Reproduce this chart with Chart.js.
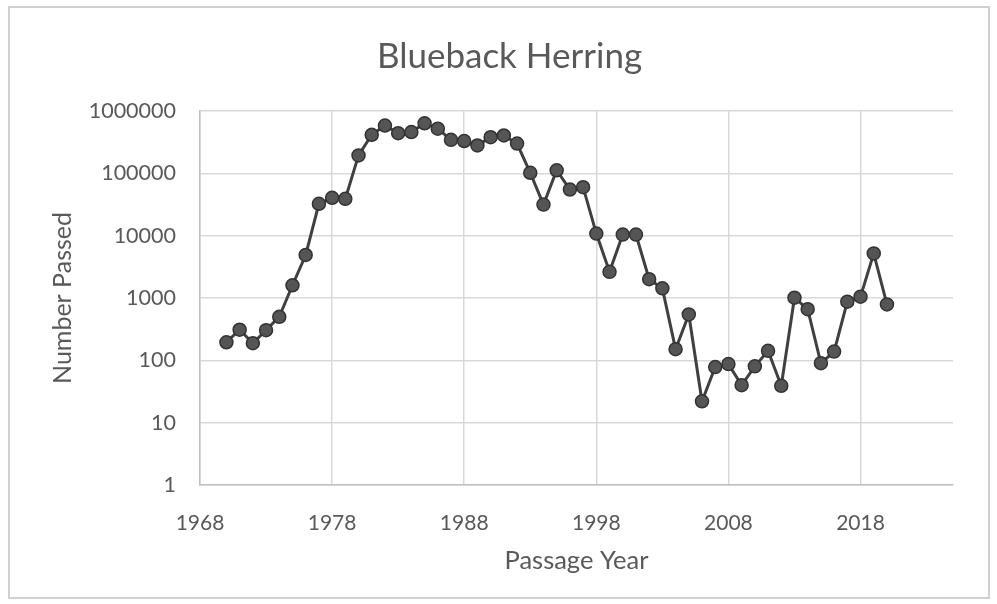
<!DOCTYPE html>
<html>
<head>
<meta charset="utf-8">
<title>Blueback Herring</title>
<script src="https://cdn.jsdelivr.net/npm/chart.js@4.4.1/dist/chart.umd.min.js"></script>
<style>
    html, body { margin: 0; padding: 0; background: #fff; }
    #wrap { width: 997px; height: 604px; position: relative; }
</style>
</head>
<body>
<div id="wrap"><canvas id="chart"></canvas></div>
<script>
// Річні підрахунки риби, що пройшла (1970–2020)
const years = [
    1970, 1971, 1972, 1973, 1974, 1975, 1976, 1977, 1978, 1979,
    1980, 1981, 1982, 1983, 1984, 1985, 1986, 1987, 1988, 1989,
    1990, 1991, 1992, 1993, 1994, 1995, 1996, 1997, 1998, 1999,
    2000, 2001, 2002, 2003, 2004, 2005, 2006, 2007, 2008, 2009,
    2010, 2011, 2012, 2013, 2014, 2015, 2016, 2017, 2018, 2019,
    2020
];
const passed = [
    195, 310, 188, 305, 500, 1600, 4900, 32500, 40500, 39000,
    194000, 415000, 585000, 440000, 460000, 635000, 520000, 345000, 330000, 280000,
    380000, 405000, 300000, 102000, 31500, 112000, 55000, 60000, 10800, 2630,
    10400, 10400, 2000, 1430, 151, 545, 22, 78, 87, 40,
    80, 142, 39, 1010, 660, 90, 138, 873, 1050, 5190,
    790
];

// Підписи осей
const xTicks = [1968, 1978, 1988, 1998, 2008, 2018];
const yTicks = [1, 10, 100, 1000, 10000, 100000, 1000000];

const textColor = '#595959';
const gridColor = '#d9d9d9';
const fontFamily = 'Lato, "Open Sans", sans-serif';

// Рамка області діаграми
const chartFrame = {
    id: 'chartFrame',
    beforeDraw(chart) {
        const ctx = chart.ctx;
        ctx.save();
        ctx.fillStyle = '#fff';
        ctx.fillRect(0, 0, chart.width, chart.height);
        ctx.strokeStyle = '#d0d0d0';
        ctx.lineWidth = 2;
        ctx.strokeRect(9, 7, 980, 591);
        ctx.restore();
    }
};

document.addEventListener('DOMContentLoaded', () => {
    initChart();
});

function initChart() {
    const ctx = document.getElementById('chart').getContext('2d');

    const points = years.map((y, i) => ({ x: y, y: passed[i] }));

    new Chart(ctx, {
        type: 'line',
        data: {
            datasets: [{
                label: 'Number Passed',
                data: points,
                borderColor: '#404040',
                borderWidth: 3,
                pointRadius: 6.5,
                pointBorderWidth: 1.5,
                pointBackgroundColor: '#555',
                pointBorderColor: '#333',
                tension: 0,
                fill: false
            }]
        },
        options: {
            responsive: true,
            maintainAspectRatio: false,
            animation: false,
            layout: {
                // лівий відступ більший, щоб заголовок стояв по центру
                padding: { left: 66, right: 44, top: 0, bottom: 20 }
            },
            plugins: {
                legend: { display: false },
                tooltip: { enabled: false },
                title: {
                    display: true,
                    text: 'Blueback Herring',
                    color: textColor,
                    font: { family: fontFamily, size: 35, weight: 'normal' },
                    padding: { top: 36, bottom: 33 }
                }
            },
            scales: {
                x: {
                    type: 'linear',
                    min: 1968,
                    max: 2025,
                    afterBuildTicks: axis => {
                        axis.ticks = xTicks.map(v => ({ value: v }));
                    },
                    afterFit: axis => { axis.height = 99; },
                    ticks: {
                        color: textColor,
                        padding: 26,
                        font: { family: fontFamily, size: 21 },
                        callback: v => String(v)
                    },
                    grid: { color: gridColor, lineWidth: 1.5, drawTicks: false },
                    border: { color: '#bfbfbf', width: 1.5 },
                    title: {
                        display: true,
                        text: 'Passage Year',
                        color: textColor,
                        font: { family: fontFamily, size: 25.5 },
                        padding: { top: 0, bottom: 8 }
                    }
                },
                y: {
                    type: 'logarithmic',
                    min: 1,
                    max: 1000000,
                    afterBuildTicks: axis => {
                        axis.ticks = yTicks.map(v => ({ value: v }));
                    },
                    afterFit: axis => { axis.width = 134; },
                    ticks: {
                        color: textColor,
                        padding: 24,
                        font: { family: fontFamily, size: 21.5 },
                        callback: v => String(v)
                    },
                    grid: { color: gridColor, lineWidth: 1.5, drawTicks: false },
                    border: { color: '#bfbfbf', width: 1.5 },
                    title: {
                        display: true,
                        text: 'Number Passed',
                        color: textColor,
                        font: { family: fontFamily, size: 25 },
                        padding: { top: -18, bottom: 0 }
                    }
                }
            }
        },
        plugins: [chartFrame]
    });
}
</script>
</body>
</html>
